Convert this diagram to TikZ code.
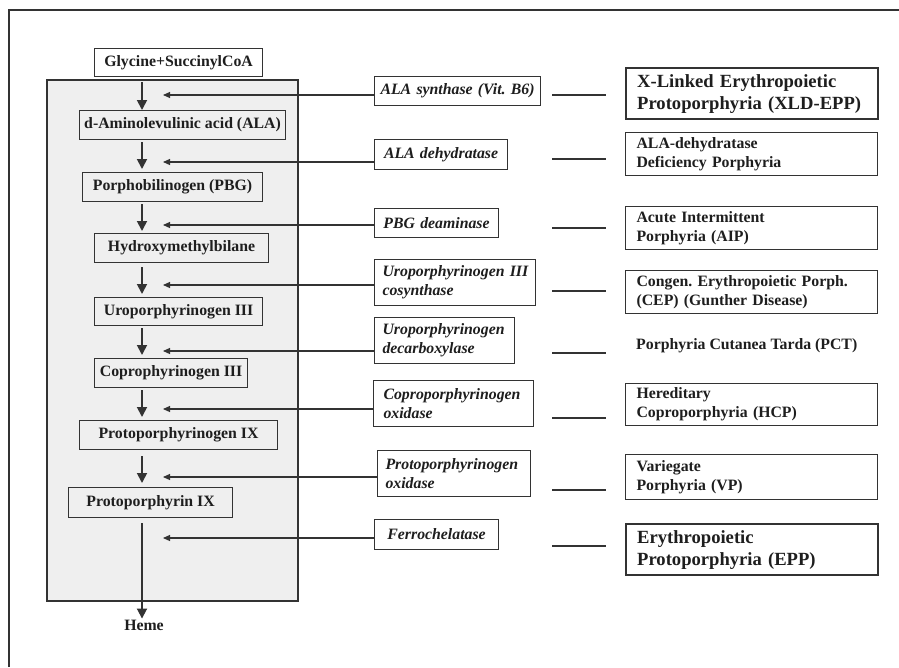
\documentclass[tikz,border=0pt]{standalone}
\usepackage{fontspec}
\setmainfont{Liberation Serif}
\usetikzlibrary{arrows.meta}
\definecolor{panelgray}{HTML}{EFEFEF}
\definecolor{ink}{HTML}{1E1E1E}
\definecolor{linec}{HTML}{333333}
\frenchspacing
\begin{document}
\begin{tikzpicture}[x=1pt,y=-1pt,
  base/.style={inner sep=0pt, anchor=north west, text=ink},
  mbox/.style={base, draw=linec, line width=1.1pt, fill=panelgray,
     font=\fontsize{15.8}{19}\selectfont\bfseries},
  ebox/.style={base, draw=linec, line width=1.1pt, fill=white,
     font=\fontsize{15.8}{19}\selectfont\bfseries\itshape, align=left, inner xsep=8pt},
  dbox/.style={base, draw=linec, line width=1.1pt, fill=white,
     font=\fontsize{15.8}{19}\selectfont\bfseries, align=left, inner xsep=11pt,
     text width=230pt, minimum width=252pt},
  bigbox/.style={dbox, line width=2.4pt, font=\fontsize{18.6}{22}\selectfont\bfseries},
  mainarr/.style={draw=linec, line width=1.8pt, -{Triangle[width=10pt,length=10pt]}},
  enzarr/.style={draw=linec, line width=1.1pt, -{Triangle[width=6pt,length=7pt]}},
  stub/.style={draw=linec, line width=1.4pt}
]
\useasboundingbox (0,0) rectangle (899,667);
% outer frame (partly visible)
\draw[linec, line width=1.4pt] (9,667) -- (9,10) -- (899,10);
% grey panel
\draw[linec, line width=1.3pt, fill=panelgray] (47,80) rectangle (298,601);

% main pathway
\node[mbox, fill=white, minimum width=168pt, minimum height=28pt] (gly) at (94,48) {Glycine+SuccinylCoA};
\node[mbox, minimum width=206pt, minimum height=29pt] (ala) at (79,110) {d-Aminolevulinic acid (ALA)};
\node[mbox, minimum width=180pt, minimum height=29pt] (pbg) at (82,172) {Porphobilinogen (PBG)};
\node[mbox, minimum width=174pt, minimum height=29pt] (hmb) at (94,233) {Hydroxymethylbilane};
\node[mbox, minimum width=168pt, minimum height=28pt] (uro) at (94,297) {Uroporphyrinogen III};
\node[mbox, minimum width=153pt, minimum height=29pt] (cop) at (94,358) {Coprophyrinogen III};
\node[mbox, minimum width=198pt, minimum height=29pt] (ppg) at (79,420) {Protoporphyrinogen IX};
\node[mbox, minimum width=164pt, minimum height=30pt] (ppx) at (68,487) {Protoporphyrin IX};
\node[text=ink, inner sep=0pt, font=\fontsize{15.8}{19}\selectfont\bfseries] (heme) at (144,625) {Heme};

\coordinate (axis) at (142,0);
\coordinate (pt) at (142,82);
\draw[mainarr] (pt) -- (ala.north -| axis);
\draw[mainarr, shorten <=2pt, shorten >=3pt] (ala.south -| axis) -- (pbg.north -| axis);
\draw[mainarr, shorten <=2pt, shorten >=2pt] (pbg.south -| axis) -- (hmb.north -| axis);
\draw[mainarr, shorten <=4pt, shorten >=3pt] (hmb.south -| axis) -- (uro.north -| axis);
\draw[mainarr, shorten <=2pt, shorten >=3pt] (uro.south -| axis) -- (cop.north -| axis);
\draw[mainarr, shorten <=2pt, shorten >=3pt] (cop.south -| axis) -- (ppg.north -| axis);
\draw[mainarr, shorten <=6pt, shorten >=4pt] (ppg.south -| axis) -- (ppx.north -| axis);
\draw[mainarr, shorten <=5pt, shorten >=1pt] (ppx.south -| axis) -- (heme.north -| axis);

% enzymes
\node[ebox, align=center, inner xsep=3pt, text width=160pt, minimum height=29pt] (e1) at (374,76) {ALA~synthase~(Vit.~B6)};
\node[ebox, align=center, text width=117pt, minimum height=30pt] (e2) at (374,139) {ALA dehydratase};
\node[ebox, align=center, text width=108pt, minimum height=29pt] (e3) at (374,208) {PBG deaminase};
\node[ebox, text width=145pt, minimum height=46pt] (e4) at (374,259) {Uroporphyrinogen~III\\cosynthase};
\node[ebox, text width=124pt, minimum height=46pt] (e5) at (374,317) {Uroporphyrinogen\\decarboxylase};
\node[ebox, inner xsep=10pt, text width=140pt, minimum height=46pt] (e6) at (373,380) {Coproporphyrinogen\\oxidase};
\node[ebox, text width=137pt, minimum height=46pt] (e7) at (377,450) {Protoporphyrinogen\\oxidase};
\node[ebox, align=center, text width=108pt, minimum height=30pt] (e8) at (374,519) {Ferrochelatase};

\coordinate (t1) at (163,95);
\coordinate (t2) at (163,162);
\coordinate (t3) at (163,225);
\coordinate (t4) at (163,285);
\coordinate (t5) at (163,351);
\coordinate (t6) at (163,409);
\coordinate (t7) at (163,477);
\coordinate (t8) at (163,538);
\foreach \i in {1,...,8} {\draw[enzarr] (t\i -| e\i.west) -- (t\i);}

% stubs
\foreach \i/\y in {1/95,2/159,3/228,4/291,5/353,6/418,7/490,8/546} {
  \coordinate (sa\i) at (552,\y);
  \coordinate (sb\i) at (606,\y);
  \draw[stub] (sa\i) -- (sb\i);
}

% diseases
\node[bigbox, minimum height=51pt] (d1) at (625,67) {X-Linked Erythropoietic\\Protoporphyria (XLD-EPP)};
\node[dbox, minimum height=43pt] (d2) at (625,132) {ALA-dehydratase\\Deficiency Porphyria};
\node[dbox, minimum height=43pt] (d3) at (625,206) {Acute Intermittent\\Porphyria (AIP)};
\node[dbox, minimum height=43pt] (d4) at (625,270) {Congen. Erythropoietic Porph.\\(CEP) (Gunther Disease)};
\node[text=ink, inner sep=0pt, anchor=west, font=\fontsize{15.8}{19}\selectfont\bfseries] (d5) at (636,346) {Porphyria Cutanea Tarda (PCT)};
\node[dbox, minimum height=42pt] (d6) at (625,383) {Hereditary\\Coproporphyria (HCP)};
\node[dbox, minimum height=45pt] (d7) at (625,454) {Variegate\\Porphyria (VP)};
\node[bigbox, minimum height=51pt] (d8) at (625,523) {Erythropoietic\\Protoporphyria (EPP)};
\end{tikzpicture}
\end{document}
